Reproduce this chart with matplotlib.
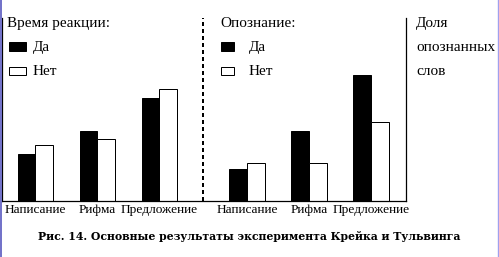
import matplotlib
matplotlib.use('Agg')
import matplotlib.pyplot as plt
import numpy as np
from matplotlib.lines import Line2D
from matplotlib.patches import Rectangle

# data (bar heights, arbitrary units)
conditions = ['Написание', 'Рифма', 'Предложение']
rt_yes = [46.5, 69.5, 102.5]
rt_no = [55.2, 61.2, 111.2]
rec_yes = [31.5, 69.5, 125.5]
rec_no = [37.2, 37.2, 78.2]

W, H = 499, 257
plt.rcParams['font.family'] = 'serif'
plt.rcParams['font.serif'] = ['Liberation Serif', 'DejaVu Serif']

fig = plt.figure(figsize=(W / 100, H / 100), dpi=100)


def fx(px):
    return px / W


def fy(py):
    return 1 - py / H


# axes area in pixels: x 2..406, y 18..200.5
ax = fig.add_axes([fx(2), fy(200.5), (406 - 2) / W, (200.5 - 18) / H])

bw = 0.285
left_pos = np.arange(3)
right_pos = np.arange(3) + 3.41

ax.bar(left_pos - bw / 2, rt_yes, bw, color='black', edgecolor='black', linewidth=0.72)
ax.bar(left_pos + bw / 2, rt_no, bw, color='white', edgecolor='black', linewidth=0.72)
ax.bar(right_pos - bw / 2, rec_yes, bw, color='black', edgecolor='black', linewidth=0.72)
ax.bar(right_pos + bw / 2, rec_no, bw, color='white', edgecolor='black', linewidth=0.72)

ax.set_xlim(-0.54, 5.976)
ax.set_ylim(0, 182.5)
ax.axvline(2.702, color='black', lw=1.44, linestyle=(0, (2, 1.5)))

for s in ['left', 'bottom', 'right']:
    ax.spines[s].set_linewidth(0.9)
ax.spines['top'].set_visible(False)
ax.set_yticks([])
ax.set_xticks(np.concatenate([left_pos, right_pos]), conditions * 2, fontsize=9.6)
ax.tick_params(axis='x', length=0, pad=2.3)

# legends / headings
fs = 11
fig.text(fx(7), fy(27), 'Время реакции:', fontsize=fs, va='baseline')
fig.text(fx(220), fy(27), 'Опознание:', fontsize=fs, va='baseline')
fig.text(fx(416), fy(27), 'Доля', fontsize=fs, va='baseline')
fig.text(fx(416), fy(51), 'опознанных', fontsize=fs, va='baseline')
fig.text(fx(416), fy(75), 'слов', fontsize=fs, va='baseline')

for x0, w, xt in [(9, 17.5, 33), (221, 12.7, 249)]:
    fig.patches.append(Rectangle((fx(x0), fy(50.5)), w / W, 8.5 / H, transform=fig.transFigure,
                                 facecolor='black', edgecolor='black', lw=0.72))
    fig.patches.append(Rectangle((fx(x0), fy(74.5)), w / W, 8 / H, transform=fig.transFigure,
                                 facecolor='white', edgecolor='black', lw=0.72))
    fig.text(fx(xt), fy(51), 'Да', fontsize=fs, va='baseline')
    fig.text(fx(xt), fy(75), 'Нет', fontsize=fs, va='baseline')

fig.text(fx(249.5), fy(239.7), 'Рис. 14. Основные результаты эксперимента Крейка и Тульвинга',
         fontsize=7.8, fontweight='bold', family='DejaVu Serif', ha='center', va='baseline')

# page border strips
fig.add_artist(Line2D([fx(0.8), fx(0.8)], [0, 1], color='#7070c8', lw=1.4))
fig.add_artist(Line2D([fx(497.5), fx(497.5)], [0, 1], color='#a0a0ee', lw=1.0))

fig.savefig('out.png', dpi=100)
